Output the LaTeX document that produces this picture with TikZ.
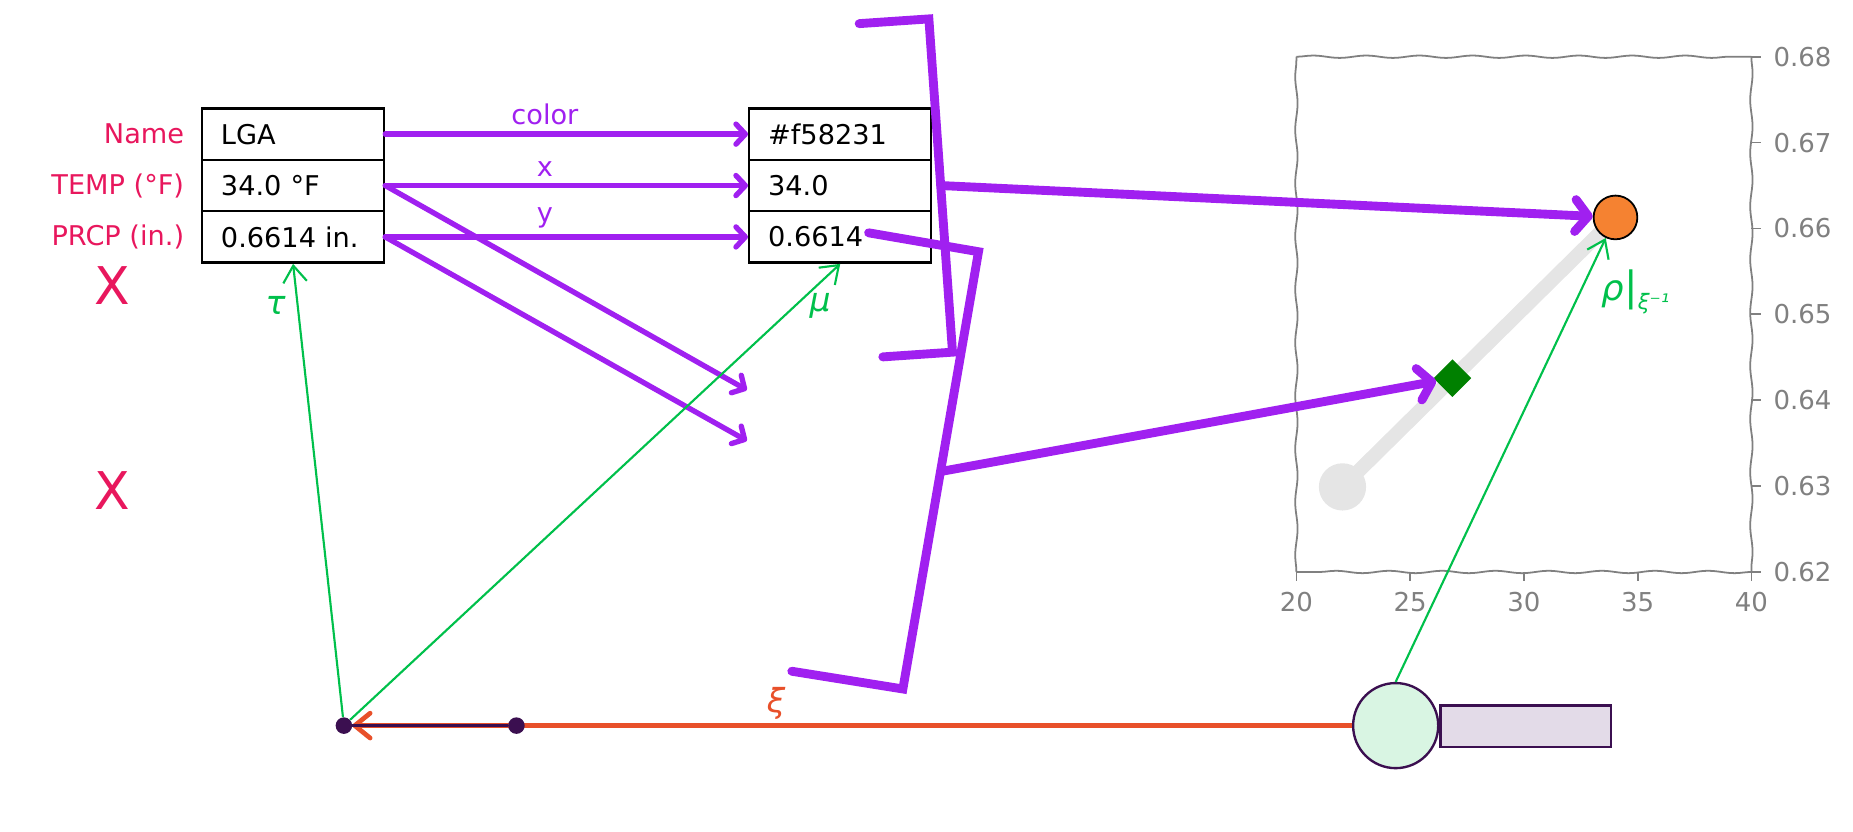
\documentclass[tikz,border=0pt]{standalone}
\usepackage{fontspec}
\setmainfont{DejaVu Sans}
\usetikzlibrary{arrows.meta,decorations.pathmorphing,shapes.geometric}

\definecolor{crim}{HTML}{E8175D}
\definecolor{vio}{HTML}{A020F0}
\definecolor{grn}{HTML}{00C04B}
\definecolor{xired}{HTML}{E8502A}
\definecolor{ptorange}{HTML}{F58231}
\definecolor{dpurple}{HTML}{3B0F50}
\definecolor{lgreen}{HTML}{D9F5E3}
\definecolor{lpurple}{HTML}{E3DBE8}
\definecolor{axgray}{HTML}{808080}
\definecolor{trackgray}{HTML}{E5E5E5}

\tikzset{
  cell/.style={draw, line width=2pt, minimum width=154pt, minimum height=43.5pt,
    text width=122pt, inner xsep=16pt, align=left},
  rowlbl/.style={anchor=east, inner sep=0pt, text=crim},
  bigx/.style={text=crim, font=\fontsize{44}{50}\selectfont},
  greek/.style={font=\fontsize{28}{32}\selectfont\itshape},
  parrow/.style={color=vio, line width=4.5pt, line cap=round,
    -{Straight Barb[length=8pt,width=17pt,round]}},
  pbig/.style={color=vio, line width=7.5pt, line cap=round, line join=miter},
  pbigarrow/.style={pbig, -{Straight Barb[length=11pt,width=27pt,round]}},
  garrow/.style={color=grn, line width=1.8pt, -{Straight Barb[length=14pt,width=20pt]}},
  xiarrow/.style={color=xired, line width=4pt, -{Straight Barb[length=13pt,width=21pt,round]}},
  frame/.style={draw=axgray, line width=1.5pt, decorate,
    decoration={snake, amplitude=1pt, segment length=45pt}},
  ticklbl/.style={text=axgray, font=\fontsize{22}{26}\selectfont},
  dot/.style={circle, fill=dpurple, inner sep=0pt, minimum size=14pt}
}

\begin{document}
\begin{tikzpicture}[x=1pt,y=-1pt, every node/.style={font=\fontsize{23}{27}\selectfont}]
  \useasboundingbox (0,0) rectangle (1568,704);

  \draw (248,113.5) node[cell] (lname) {LGA};
  \draw (248,157) node[cell] (ltemp) {34.0 °F};
  \draw (248,200.5) node[cell] (lprcp) {0.6614 in.};
  \draw (711,113.5) node[cell] (rcolor) {\#f58231};
  \draw (711,157) node[cell] (rx) {34.0};
  \draw (711,200.5) node[cell] (ry) {0.6614};

  \draw (156,113.5) node[rowlbl] (nname) {Name};
  \draw (156,157) node[rowlbl] (ntemp) {TEMP (°F)};
  \draw (156,200.5) node[rowlbl] (nprcp) {PRCP (in.)};
  \draw (95,242) node[bigx] (xa) {X};
  \draw (95,415) node[bigx] (xb) {X};

  \coordinate (tx) at (632,330);
  \coordinate (ty) at (632,373);
  \path[parrow] (lname.east) edge node[pos=0.44,above=2pt] (lcolor) {color} (rcolor.west);
  \path[parrow] (ltemp.east) edge node[pos=0.44,above=2pt] (lx) {x} (rx.west);
  \path[parrow] (lprcp.east) edge node[pos=0.44,above=2pt] (ly) {y} (ry.west);
  \path[parrow] (ltemp.east) edge (tx);
  \path[parrow] (lprcp.east) edge (ty);

  \draw[pbig] (727,20) -- (786,16) -- (806,298) -- (747,302);
  \draw[pbig] (735,197) -- (828,213) -- (764,583) -- (670,568);
  \coordinate (ba) at (796,157);
  \coordinate (bb) at (796,399);

  \draw[frame] (1097,484) -- (1097,48);
  \draw[frame] (1097,48) -- (1482,48);
  \draw[frame] (1482,48) -- (1482,484);
  \draw[frame] (1482,484) -- (1097,484);
  \foreach \v [count=\i from 0] in {20,25,30,35,40}
    \draw[axgray, line width=1.5pt] (1097+96.25*\i,484) -- ++(0,8)
      node[ticklbl, below, inner sep=8pt] {\v};
  \foreach \v [count=\i from 0] in {0.68,0.67,0.66,0.65,0.64,0.63,0.62}
    \draw[axgray, line width=1.5pt] (1482,48+72.67*\i) -- ++(8,0)
      node[ticklbl, right, inner sep=10pt] {\v};

  \draw[trackgray, line width=12pt] (1136,412) -- (1367,184);
  \fill[trackgray] (1136,412) circle (20);
  \draw (1229,320) node[diamond, fill=green!50!black, inner sep=0pt, minimum size=32pt] (dpt) {};
  \draw (1367,184) node[circle, draw, fill=ptorange, line width=1.5pt, inner sep=0pt, minimum size=37pt] (opt) {};

  \path[pbigarrow] (ba) edge (opt);
  \path[pbigarrow] (bb) edge (dpt);

  \draw (1181,614) node[circle, draw=dpurple, fill=lgreen, line width=2pt, minimum size=72pt] (ball) {};
  \draw (1218,614.5) node[anchor=west, draw=dpurple, fill=lpurple, line width=2pt, minimum width=144pt, minimum height=35pt] (bar) {};
  \draw (291,614) node[dot] (dota) {};

  \path[xiarrow] (ball.west) edge node[pos=0.576, above, greek, text=xired] (xil) {ξ} (dota);
  \draw (437,614) node[dot] (dotb) {};
  \draw[dpurple, line width=3pt] (dota) -- (dotb);

  \path[garrow] (dota) edge node[pos=0.908, left=6pt, greek] (taul) {τ} (lprcp.south);
  \path[garrow] (dota) edge node[pos=0.908, right=8pt, greek] (mul) {μ} (ry.south);
  \path[garrow] (ball.north) edge (opt);
  \draw (1384,247) node[text=grn] (rhol) {{\fontsize{30}{32}\selectfont\itshape ρ}{\fontsize{34}{34}\selectfont|}\raisebox{-0.3em}{\fontsize{18}{20}\selectfont\itshape ξ⁻¹}};
\end{tikzpicture}
\end{document}
